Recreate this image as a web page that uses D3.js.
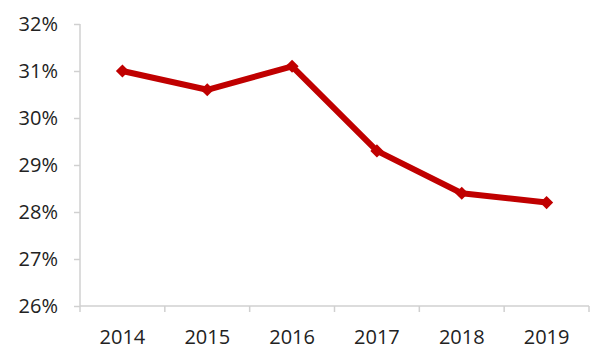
<!DOCTYPE html>
<html>
<head>
<meta charset="utf-8">
<script src="https://cdn.jsdelivr.net/npm/d3@7"></script>
<style>
  body { margin: 0; background: #fff; }
  text { font-family: "Open Sans", sans-serif; fill: #222; }
</style>
</head>
<body>
<svg id="chart"></svg>
<script>
// Data
const years = ["2014", "2015", "2016", "2017", "2018", "2019"];
const shares = [31.0, 30.6, 31.1, 29.3, 28.4, 28.2];
const yTicks = [26, 27, 28, 29, 30, 31, 32];

// Constants
const width = 615;
const height = 364;
const margin = { left: 80, right: 26, top: 24, bottom: 58 };

const svg = d3.select('#chart')
  .attr('width', width)
  .attr('height', height);

const x = d3.scaleBand()
  .domain(years)
  .range([margin.left, width - margin.right]);

const y = d3.scaleLinear()
  .domain([26, 32])
  .range([height - margin.bottom, margin.top]);

const axisColor = '#d0d0d0';

// y axis
const yAxis = svg.append('g')
  .attr('transform', `translate(${margin.left},0)`)
  .call(d3.axisLeft(y).tickValues(yTicks).tickSize(6).tickPadding(16).tickFormat(d => d + '%'));
yAxis.selectAll('line, path').attr('stroke', axisColor).attr('stroke-width', 1.5);
yAxis.select('.domain').attr('d', `M0,${y(26)}V${y(32)}`);
yAxis.selectAll('text').attr('font-size', 20).style('font-family', '"Open Sans", sans-serif').attr('fill', '#222');

// x axis with ticks on the band edges
const xAxisG = svg.append('g')
  .attr('transform', `translate(0,${y(26)})`);
xAxisG.append('line')
  .attr('x1', margin.left).attr('x2', width - margin.right)
  .attr('stroke', axisColor).attr('stroke-width', 1.5);
const edges = years.map(d => x(d)).concat([x(years[years.length - 1]) + x.bandwidth()]);
xAxisG.selectAll('.edge')
  .data(edges)
  .enter().append('line')
  .attr('x1', d => d).attr('x2', d => d)
  .attr('y1', 0).attr('y2', 6)
  .attr('stroke', axisColor).attr('stroke-width', 1.5);
xAxisG.selectAll('.lbl')
  .data(years)
  .enter().append('text')
  .attr('x', d => x(d) + x.bandwidth() / 2)
  .attr('y', 31)
  .attr('dy', '0.35em')
  .attr('text-anchor', 'middle')
  .attr('font-size', 20)
  .text(d => d);

// Line
const pts = years.map((d, i) => [x(d) + x.bandwidth() / 2, y(shares[i])]);

svg.append('path')
  .datum(pts)
  .attr('fill', 'none')
  .attr('stroke', '#C00000')
  .attr('stroke-width', 6)
  .attr('stroke-linejoin', 'round')
  .attr('d', d3.line());

svg.selectAll('.marker')
  .data(pts)
  .enter().append('path')
  .attr('transform', d => `translate(${d[0]},${d[1]})`)
  .attr('d', d3.symbol().type(d3.symbolDiamond2).size(110))
  .attr('fill', '#C00000');
</script>
</body>
</html>
